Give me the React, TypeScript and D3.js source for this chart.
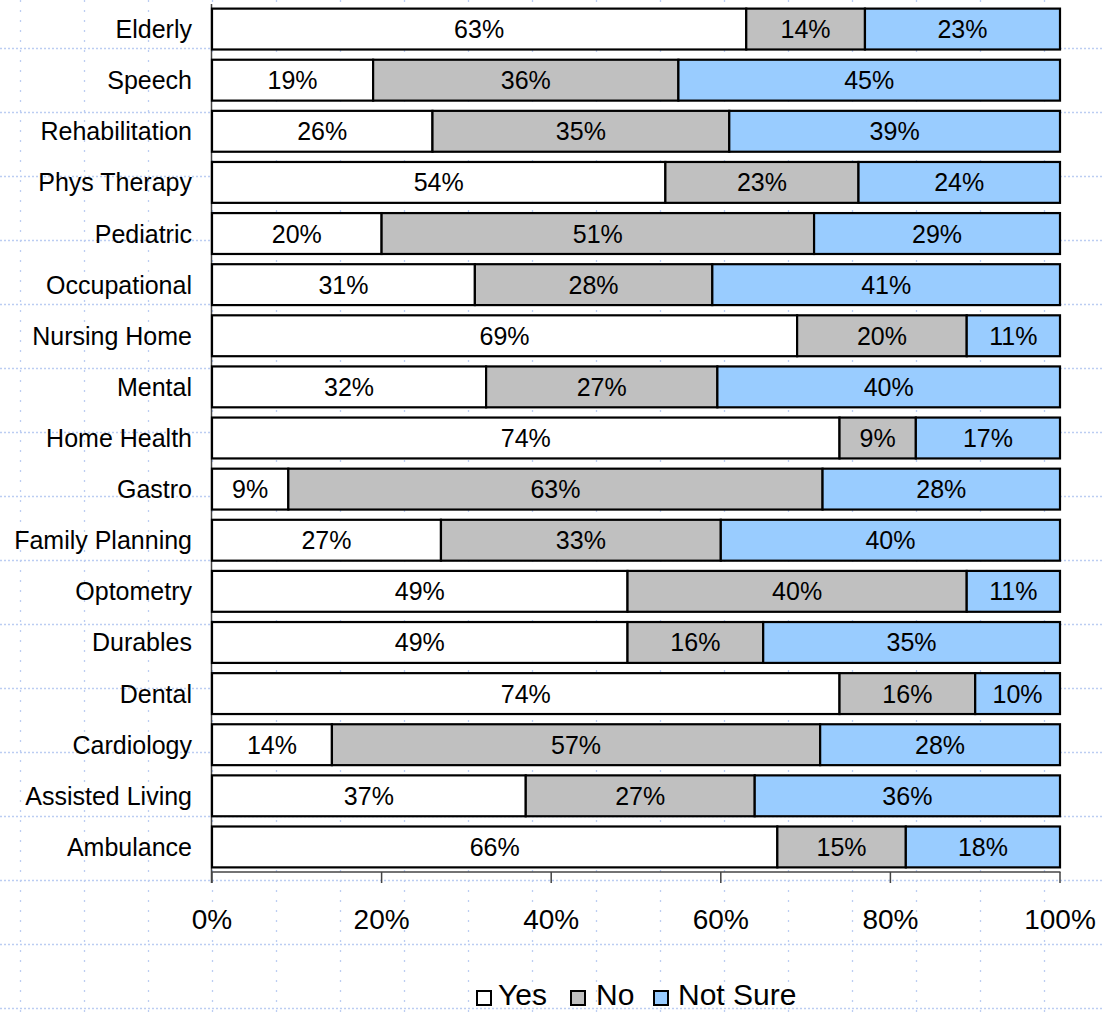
import React from "react";
import * as d3 from "d3";

const categories = [
  "Elderly", "Speech", "Rehabilitation", "Phys Therapy", "Pediatric", "Occupational",
  "Nursing Home", "Mental", "Home Health", "Gastro", "Family Planning", "Optometry",
  "Durables", "Dental", "Cardiology", "Assisted Living", "Ambulance",
];
const yesValues = [63, 19, 26, 54, 20, 31, 69, 32, 74, 9, 27, 49, 49, 74, 14, 37, 66];
const noValues = [14, 36, 35, 23, 51, 28, 20, 27, 9, 63, 33, 40, 16, 16, 57, 27, 15];
const notSureValues = [23, 45, 39, 24, 29, 41, 11, 40, 17, 28, 40, 11, 35, 10, 28, 36, 18];
const seriesNames = ["Yes", "No", "Not Sure"];
const seriesColors = ["#FFFFFF", "#C0C0C0", "#99CCFF"];
const tickValues = [0, 0.2, 0.4, 0.6, 0.8, 1.0];

const W = 1102;
const H = 1012;
const FONT = "'Liberation Sans', Arial, Helvetica, sans-serif";

export default function App() {
  const x = d3.scaleLinear().domain([0, 1]).range([212, 1060]);
  const y = d3.scaleBand<string>().domain(categories).range([3.5, 872.5]).paddingInner(0.2).paddingOuter(0.1);
  const bw = y.bandwidth();

  const rows = categories.map((c, i) => {
    const vals = [yesValues[i], noValues[i], notSureValues[i]];
    const total = d3.sum(vals);
    let acc = 0;
    const segs = vals.map((v, k) => {
      const x0 = acc / total;
      acc += v;
      const x1 = acc / total;
      return { k, v, x0, x1 };
    });
    return { c, segs };
  });

  const gridX = d3.range(20, W, 64);
  const gridY = d3.range(48, H, 64);

  const legendItems = [
    { name: seriesNames[0], color: seriesColors[0], bx: 477, tx: 498 },
    { name: seriesNames[1], color: seriesColors[1], bx: 571, tx: 596 },
    { name: seriesNames[2], color: seriesColors[2], bx: 654, tx: 678 },
  ];

  return (
    <svg width={W} height={H} style={{ position: "absolute", left: 0, top: 0, background: "#fff" }} fontFamily={FONT}>
      <rect x={0} y={0} width={W} height={H} fill="#fff" />
      {/* background dotted grid */}
      <g>
        {gridY.map((gy) => (
          <line key={"h" + gy} x1={0} x2={W} y1={gy + 0.5} y2={gy + 0.5} stroke="#BCCDF2" strokeWidth={1.3} strokeDasharray="2 2" />
        ))}
        {gridX.map((gx) => (
          <line key={"v" + gx} x1={gx + 0.5} x2={gx + 0.5} y1={0} y2={H} stroke="#BCCDF2" strokeWidth={1.3} strokeDasharray="2 8" />
        ))}
      </g>

      {/* axes */}
      <line x1={211.5} x2={211.5} y1={4} y2={883} stroke="#444" strokeWidth={1.5} />
      <line x1={211.5} x2={1060.5} y1={872} y2={872} stroke="#444" strokeWidth={1.5} />
      {tickValues.map((t) => (
        <g key={"t" + t}>
          <line x1={x(t)} x2={x(t)} y1={872} y2={883} stroke="#444" strokeWidth={1.5} />
          <text x={x(t)} y={929} textAnchor="middle" fontSize={28} fill="#000">
            {d3.format(".0%")(t)}
          </text>
        </g>
      ))}

      {/* bars */}
      {rows.map((r) => {
        const yy = y(r.c)!;
        return (
          <g key={r.c}>
            <text x={192} y={yy + bw / 2 + 9} textAnchor="end" fontSize={25} fill="#000">
              {r.c}
            </text>
            {r.segs.map((s) => (
              <rect
                key={s.k}
                x={x(s.x0)}
                y={yy}
                width={x(s.x1) - x(s.x0)}
                height={bw}
                fill={seriesColors[s.k]}
                stroke="#000"
                strokeWidth={2.2}
              />
            ))}
            {r.segs.map((s) => (
              <text
                key={"l" + s.k}
                x={(x(s.x0) + x(s.x1)) / 2}
                y={yy + bw / 2 + 9}
                textAnchor="middle"
                fontSize={25}
                fill="#000"
              >
                {s.v + "%"}
              </text>
            ))}
          </g>
        );
      })}

      {/* legend */}
      {legendItems.map((l) => (
        <g key={l.name}>
          <rect x={l.bx} y={991} width={14} height={14} fill={l.color} stroke="#000" strokeWidth={2} />
          <text x={l.tx} y={1005} fontSize={30} fill="#000">
            {l.name}
          </text>
        </g>
      ))}
    </svg>
  );
}
